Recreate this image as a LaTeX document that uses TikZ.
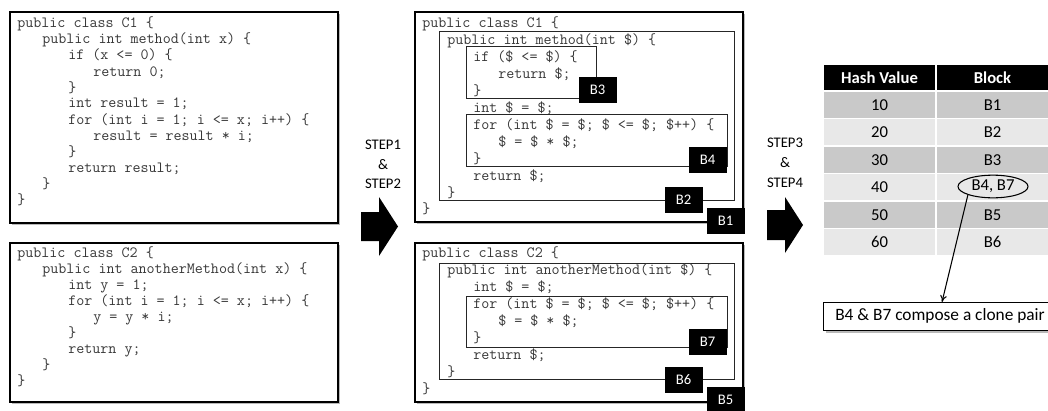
\documentclass[tikz,border=0pt]{standalone}
\usepackage{fontspec}
\setmainfont{Carlito}
\usetikzlibrary{shadows,arrows.meta,shapes.geometric}
\newcommand\cln[4]{\node[code] (#1) at (#2,#3) {#4};}
\begin{document}
\begin{tikzpicture}[x=0.75pt,y=-0.75pt,
  outer/.style={draw=black,line width=0.9pt,fill=white,
    drop shadow={shadow xshift=1.8pt,shadow yshift=-1.8pt,fill=black!50,opacity=0.55}},
  blk/.style={draw=black!85,line width=0.75pt},
  lbl/.style={fill=black,text=white,font=\fontsize{11}{13}\selectfont,inner sep=0pt,
    minimum width=28.5pt,minimum height=19.5pt},
  code/.style={font=\ttfamily\fontsize{11.7}{13}\selectfont,text=black!78,anchor=base west,inner sep=0pt},
  steptxt/.style={font=\fontsize{11}{13}\selectfont,inner sep=0pt},
  bigarrow/.style={fill=black},
  cell/.style={draw=white,line width=1.2pt,minimum width=84.75pt,minimum height=20.6pt,inner sep=0pt,
    font=\fontsize{12.5}{14}\selectfont},
  darkrow/.style={fill=black!21},
  lightrow/.style={fill=black!9},
]
\useasboundingbox (0,0) rectangle (1048,410);
\clip (0,0) rectangle (1048,410);

% ---------- left code boxes ----------
\path[outer] (10,12) rectangle (338,223);
\path[outer] (10,243) rectangle (338,402);

\cln{a1}{17}{28}{public class C1 \{}
\cln{a2}{42}{44}{public int method(int x) \{}
\cln{a3}{68}{60}{if (x <= 0) \{}
\cln{a4}{93}{76}{return 0;}
\cln{a5}{68}{92}{\}}
\cln{a6}{68}{108}{int result = 1;}
\cln{a7}{68}{124}{for (int i = 1; i <= x; i++) \{}
\cln{a8}{93}{140}{result = result * i;}
\cln{a9}{68}{156}{\}}
\cln{a10}{68}{172}{return result;}
\cln{a11}{42}{188}{\}}
\cln{a12}{17}{204}{\}}

\cln{b1}{17}{257}{public class C2 \{}
\cln{b2}{42}{273.1}{public int anotherMethod(int x) \{}
\cln{b3}{68}{289.2}{int y = 1;}
\cln{b4}{68}{305.3}{for (int i = 1; i <= x; i++) \{}
\cln{b5}{93}{321.4}{y = y * i;}
\cln{b6}{68}{337.5}{\}}
\cln{b7}{68}{353.6}{return y;}
\cln{b8}{42}{369.7}{\}}
\cln{b9}{17}{385.8}{\}}

% ---------- arrows ----------
\path[bigarrow] (361,212) -- (379,212) -- (379,197) -- (398,226.5) -- (379,256) -- (379,241) -- (361,241) -- cycle;
\node[steptxt] (s1) at (383,145) {STEP1};
\node[steptxt] (s1a) at (383,165) {\&};
\node[steptxt] (s2) at (383,184) {STEP2};

\path[bigarrow] (767,210) -- (785,210) -- (785,197) -- (803,225) -- (785,253) -- (785,240) -- (767,240) -- cycle;
\node[steptxt] (s3) at (785,143) {STEP3};
\node[steptxt] (s3a) at (785,163) {\&};
\node[steptxt] (s4) at (785,183) {STEP4};

% ---------- middle boxes ----------
\path[outer] (415,12) rectangle (743,222);
\path[blk] (439,32) rectangle (734,200);
\path[blk] (466,47) rectangle (596,98);
\path[blk] (466,114) rectangle (727,166);

\cln{m1}{422}{28}{public class C1 \{}
\cln{m2}{447}{44.9}{public int method(int \$) \{}
\cln{m3}{473}{61.8}{if (\$ <= \$) \{}
\cln{m4}{498}{78.7}{return \$;}
\cln{m5}{473}{95.6}{\}}
\cln{m6}{473}{112.5}{int \$ = \$;}
\cln{m7}{473}{129.4}{for (int \$ = \$; \$ <= \$; \$++) \{}
\cln{m8}{498}{146.3}{\$ = \$ * \$;}
\cln{m9}{473}{163.2}{\}}
\cln{m10}{473}{180.1}{return \$;}
\cln{m11}{447}{197}{\}}
\cln{m12}{422}{213.9}{\}}

\node[lbl] (lB3) at (597.5,90) {B3};
\node[lbl] (lB4) at (707.5,160) {B4};
\node[lbl] (lB2) at (683.5,200) {B2};
\node[lbl] (lB1) at (725.5,221) {B1};

\path[outer] (415,243) rectangle (743,402);
\path[blk] (439,263) rectangle (734,379);
\path[blk] (466,296) rectangle (727,347);

\cln{n1}{422}{257}{public class C2 \{}
\cln{n2}{447}{274.1}{public int anotherMethod(int \$) \{}
\cln{n3}{473}{291.2}{int \$ = \$;}
\cln{n4}{473}{308.3}{for (int \$ = \$; \$ <= \$; \$++) \{}
\cln{n5}{498}{325.4}{\$ = \$ * \$;}
\cln{n6}{473}{342.5}{\}}
\cln{n7}{473}{359.6}{return \$;}
\cln{n8}{447}{376.7}{\}}
\cln{n9}{422}{393.8}{\}}

\node[lbl] (lB7) at (707.5,341.5) {B7};
\node[lbl] (lB6) at (683.5,379.5) {B6};
\node[lbl] (lB5) at (725.5,400) {B5};

% ---------- table ----------
\node[cell,fill=black,text=white,font=\bfseries\fontsize{12.5}{14}\selectfont] (hh) at (879.5,77.75) {Hash Value};
\node[cell,fill=black,text=white,font=\bfseries\fontsize{12.5}{14}\selectfont] (hb) at (992.5,77.75) {Block};
\foreach \v/\b [count=\i] in {10/B1,20/B2,30/B3,40/,50/B5,60/B6}{
  \pgfmathsetmacro\yy{91+27.5*(\i-0.5)}
  \ifodd\i
    \node[cell,darkrow] (h\i) at (879.5,\yy) {\v};
    \node[cell,darkrow] (b\i) at (992.5,\yy) {\b};
  \else
    \node[cell,lightrow] (h\i) at (879.5,\yy) {\v};
    \node[cell,lightrow] (b\i) at (992.5,\yy) {\b};
  \fi
}
\node[ellipse,draw=black,line width=0.8pt,minimum width=52.5pt,minimum height=17pt,inner sep=0pt,
  font=\fontsize{12.5}{14}\selectfont] (ell) at (993,186.5) {B4, B7};

% ---------- clone pair ----------
\node[outer,anchor=north west,minimum width=172pt,minimum height=21pt,inner sep=0pt] (clone) at (823,302) {};
\node[anchor=west,inner sep=0pt,font=\fontsize{13}{15}\selectfont] (clonetxt) at (835,316) {B4 \& B7 compose a clone pair};
\coordinate (tip) at (942,302);
\draw[line width=0.8pt,-{To[length=5pt,width=5pt]}] (ell.south west) -- (tip);
\end{tikzpicture}
\end{document}
